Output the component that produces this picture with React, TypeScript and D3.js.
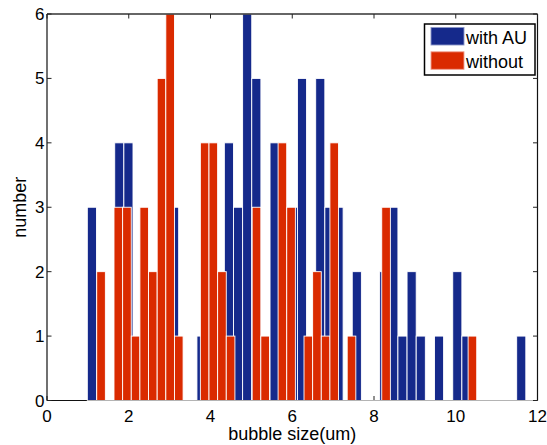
import React from "react";
import * as d3 from "d3";

// Axis ticks
const xTicks = [0, 2, 4, 6, 8, 10, 12];
const yTicks = [0, 1, 2, 3, 4, 5, 6];

// Histogram of bubble sizes "with AU": 48 equal bins
const withAuBinStart = 1.098;
const withAuBinWidth = 0.2235;
const withAuCounts = [
  3, 0, 0, 4, 4, 0, 0, 0, 0, 3,
  0, 0, 1, 0, 0, 4, 3, 6, 5, 0,
  4, 0, 3, 5, 0, 5, 3, 3, 0, 2,
  0, 0, 2, 3, 1, 2, 1, 0, 1, 0,
  2, 1, 0, 0, 0, 0, 0, 1,
];

// Histogram of bubble sizes "without": 44 equal bins
const withoutBinStart = 1.322;
const withoutBinWidth = 0.2113;
const withoutCounts = [
  2, 0, 3, 3, 1, 3, 2, 5, 6, 1,
  0, 0, 4, 4, 2, 1, 0, 0, 3, 1,
  0, 4, 3, 0, 1, 2, 1, 4, 0, 1,
  0, 0, 0, 3, 0, 0, 0, 0, 0, 0,
  0, 0, 0, 1,
];

const seriesNames = ["with AU", "without"];
const BLUE = "#15298b";
const RED = "#da2a00";
const FONT = "'Liberation Sans', Arial, Helvetica, sans-serif";

const W = 547;
const H = 445;
const left = 47;
const right = 537.5;
const top = 14;
const bottom = 400.5;

type Bin = { c: number; w: number; v: number };

function bins(start: number, width: number, counts: number[]): Bin[] {
  return counts.map((v, i) => ({ c: start + i * width, w: width, v }));
}

export default function App() {
  const x = d3.scaleLinear().domain([0, 12]).range([left, right]);
  const y = d3.scaleLinear().domain([0, 6]).range([bottom, top]);

  const blue = bins(withAuBinStart, withAuBinWidth, withAuCounts);
  const red = bins(withoutBinStart, withoutBinWidth, withoutCounts);

  const drawBars = (data: Bin[], fill: string, key: string) =>
    data
      .filter((d) => d.v > 0)
      .map((d, i) => {
        const x0 = x(d.c - d.w / 2);
        const x1 = x(d.c + d.w / 2);
        return (
          <rect
            key={`${key}-${i}`}
            x={x0}
            y={y(d.v)}
            width={x1 - x0}
            height={y(0) - y(d.v)}
            fill={fill}
            stroke="#ffffff"
            strokeWidth={0.9}
          />
        );
      });

  const firstEdge = x(withAuBinStart - withAuBinWidth / 2);
  const tickLen = 4.5;

  return (
    <svg
      width={W}
      height={H}
      style={{ position: "absolute", left: 0, top: 0, background: "#fff" }}
      fontFamily={FONT}
    >
      <rect x={0} y={0} width={W} height={H} fill="#ffffff" />

      {/* bottom ticks and axis, under the bars */}
      {xTicks.map((t) => (
        <line key={`bt${t}`} x1={x(t)} x2={x(t)} y1={bottom} y2={bottom - tickLen} stroke="#222" strokeWidth={1} />
      ))}
      <line x1={left} x2={right} y1={bottom} y2={bottom} stroke="#111" strokeWidth={1.2} />

      {/* bars: "with AU" first, "without" on top */}
      {drawBars(blue, BLUE, "b")}
      {drawBars(red, RED, "r")}

      {/* bar baseline */}
      <line x1={firstEdge} x2={right} y1={bottom} y2={bottom} stroke="#b4b4b4" strokeWidth={1.2} />

      {/* frame */}
      <line x1={left} x2={right} y1={top} y2={top} stroke="#333" strokeWidth={1.6} />
      <line x1={left} x2={left} y1={top} y2={bottom} stroke="#111" strokeWidth={1.2} />
      <line x1={right} x2={right} y1={top} y2={bottom} stroke="#111" strokeWidth={1.2} />

      {/* top, left, right ticks */}
      {xTicks.map((t) => (
        <line key={`tt${t}`} x1={x(t)} x2={x(t)} y1={top} y2={top + tickLen} stroke="#222" strokeWidth={1} />
      ))}
      {yTicks.map((t) => (
        <g key={`yt${t}`}>
          <line x1={left} x2={left + tickLen} y1={y(t)} y2={y(t)} stroke="#222" strokeWidth={1} />
          <line x1={right} x2={right - tickLen} y1={y(t)} y2={y(t)} stroke="#222" strokeWidth={1} />
        </g>
      ))}

      {/* tick labels */}
      {xTicks.map((t) => (
        <text key={`xl${t}`} x={x(t)} y={421.5} textAnchor="middle" fontSize={17} fill="#000">
          {t}
        </text>
      ))}
      {yTicks.map((t) => (
        <text key={`yl${t}`} x={44.5} y={y(t) + 6} textAnchor="end" fontSize={17} fill="#000">
          {t}
        </text>
      ))}

      {/* axis labels */}
      <text x={(left + right) / 2} y={440} textAnchor="middle" fontSize={18} fill="#000">
        bubble size(um)
      </text>
      <text
        transform={`translate(25.5,${(top + bottom) / 2}) rotate(-90)`}
        textAnchor="middle"
        fontSize={18}
        fill="#000"
      >
        number
      </text>

      {/* legend */}
      <rect x={424.5} y={24} width={110.5} height={51} fill="#fff" stroke="#000" strokeWidth={1.5} />
      {seriesNames.map((name, i) => (
        <g key={name}>
          <rect
            x={431}
            y={27.5 + i * 24.3}
            width={33}
            height={17.5}
            fill={i === 0 ? BLUE : RED}
            stroke={i === 0 ? "#8b95c8" : "#f0a090"}
            strokeWidth={0.9}
          />
          <text x={466} y={43.5 + i * 24.6} fontSize={18} fill="#000">
            {name}
          </text>
        </g>
      ))}
    </svg>
  );
}
